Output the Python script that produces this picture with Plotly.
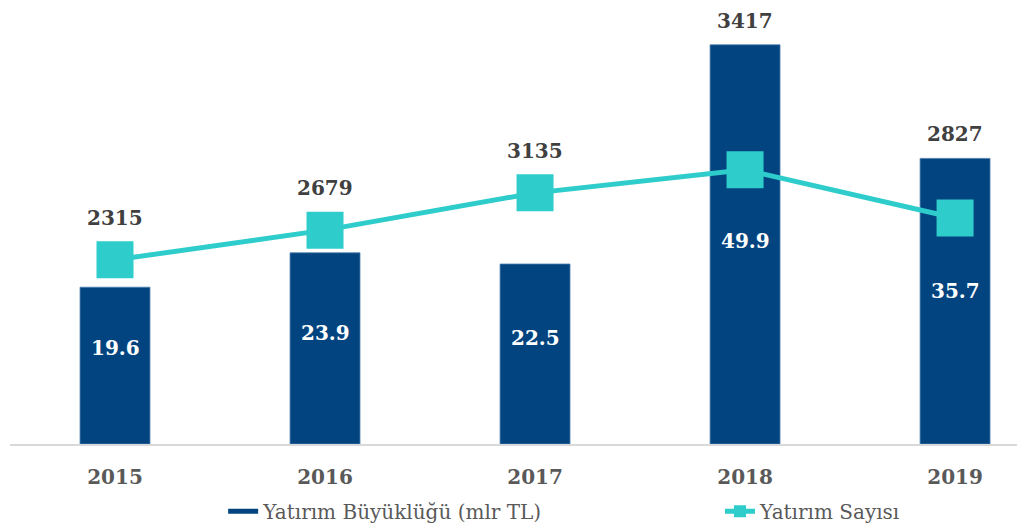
import plotly.graph_objects as go

years = ["2015", "2016", "2017", "2018", "2019"]
yatirim_buyuklugu = [19.6, 23.9, 22.5, 49.9, 35.7]  # mlr TL
yatirim_sayisi = [2315, 2679, 3135, 3417, 2827]

BAR_COLOR = "#02447F"
LINE_COLOR = "#2ECDCC"
SERIF = "DejaVu Serif"

y1_range = [0, 54.5]
y2_range = [61, 5398]


def to_y1(v):
    # map a value of the count axis onto the size axis
    return (v - y2_range[0]) / (y2_range[1] - y2_range[0]) * (y1_range[1] - y1_range[0]) + y1_range[0]


fig = go.Figure()
fig.add_trace(go.Bar(
    x=years, y=yatirim_buyuklugu, name="Yatırım Büyüklüğü (mlr TL)",
    marker=dict(color=BAR_COLOR, line=dict(color="#4C7DAF", width=0.8)),
    yaxis="y", showlegend=False,
))
# legend entry for the bars, drawn as a wide block like the original
fig.add_trace(go.Scatter(
    x=[None], y=[None], name="Yatırım Büyüklüğü (mlr TL)", mode="lines",
    line=dict(color=BAR_COLOR, width=12), yaxis="y", legend="legend",
))
fig.add_trace(go.Scatter(
    x=years, y=yatirim_sayisi, name="Yatırım Sayısı", mode="lines+markers",
    line=dict(color=LINE_COLOR, width=5),
    marker=dict(symbol="square", size=37, color=LINE_COLOR),
    yaxis="y2", legend="legend2",
))

annotations = []
px_per_unit = 8.0
for i, (b, s) in enumerate(zip(yatirim_buyuklugu, yatirim_sayisi)):
    # value labels inside the bars, a little above the middle (x as category index)
    annotations.append(dict(
        x=i, y=b * 0.44 + 3.4, xref="x", yref="y", text=f"<b>{b}</b>", showarrow=False,
        font=dict(family=SERIF, size=20, color="white"),
    ))
    # count labels sit above whichever mark is higher
    if b + 27 / px_per_unit >= to_y1(s) + 42 / px_per_unit:
        annotations.append(dict(
            x=i, y=b, xref="x", yref="y", yshift=24, text=f"<b>{s}</b>", showarrow=False,
            font=dict(family=SERIF, size=20, color="#404040"),
        ))
    else:
        annotations.append(dict(
            x=i, y=s, xref="x", yref="y2", yshift=42, text=f"<b>{s}</b>", showarrow=False,
            font=dict(family=SERIF, size=20, color="#404040"),
        ))

hidden = dict(showgrid=False, zeroline=False, showline=False, showticklabels=False, ticks="")
legend_font = dict(family=SERIF, size=20, color="#595959")

fig.update_layout(
    width=1017, height=523,
    margin=dict(l=2, r=0, t=0, b=87),
    paper_bgcolor="white", plot_bgcolor="white",
    bargap=0.667,
    showlegend=True,
    legend=dict(orientation="h", x=0.21, xanchor="left", y=-0.154, yanchor="middle",
                font=legend_font, itemsizing="constant"),
    legend2=dict(orientation="h", x=0.6995, xanchor="left", y=-0.154, yanchor="middle",
                 font=legend_font, itemsizing="constant"),
    xaxis=dict(
        type="category", range=[-0.5, 4.333], showgrid=False, showline=True,
        linecolor="#D9D9D9", linewidth=1.5,
        ticks="", ticklabelstandoff=14,
        tickfont=dict(family=SERIF, size=20, color="#595959", weight="bold"),
    ),
    yaxis=dict(range=y1_range, **hidden),
    yaxis2=dict(range=y2_range, overlaying="y", **hidden),
    annotations=annotations,
)

fig.write_html("out.html")
